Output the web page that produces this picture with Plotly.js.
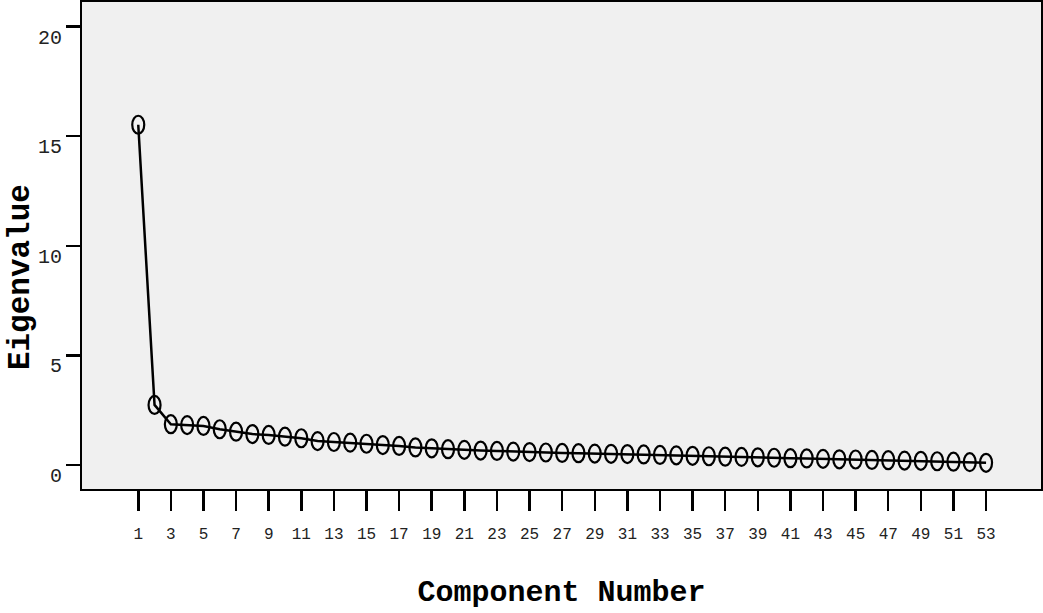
<!DOCTYPE html>
<html>
<head>
<meta charset="utf-8">
<script src="https://cdn.plot.ly/plotly-3.0.1.min.js"></script>
<style>html,body{margin:0;padding:0;background:#fff;}#chart{width:1043px;height:613px;}</style>
</head>
<body>
<div id="chart"></div>
<script>
// Component numbers 1..53
const components = [1,2,3,4,5,6,7,8,9,10,11,12,13,14,15,16,17,18,19,20,21,22,23,24,25,26,27,28,29,30,31,32,33,34,35,36,37,38,39,40,41,42,43,44,45,46,47,48,49,50,51,52,53];
// Eigenvalues
const eigenvalues = [15.52,2.74,1.86,1.82,1.78,1.63,1.52,1.41,1.37,1.29,1.22,1.09,1.05,1.02,0.97,0.91,0.87,0.80,0.76,0.72,0.69,0.66,0.64,0.61,0.59,0.57,0.55,0.54,0.52,0.51,0.50,0.48,0.46,0.44,0.42,0.40,0.38,0.37,0.35,0.33,0.31,0.30,0.28,0.26,0.25,0.23,0.22,0.20,0.19,0.17,0.15,0.13,0.10];
const xTickVals = [1,3,5,7,9,11,13,15,17,19,21,23,25,27,29,31,33,35,37,39,41,43,45,47,49,51,53];
const yTickVals = [0,5,10,15,20];
const xTitle = 'Component Number';
const yTitle = 'Eigenvalue';

const FONT = '"Liberation Mono", "Courier New", monospace';

const trace = {
  x: components,
  y: eigenvalues,
  type: 'scatter',
  mode: 'lines',
  line: {color: '#000', width: 2.5},
  hoverinfo: 'x+y',
  showlegend: false
};

// open elliptical markers anchored at each data point
const shapes = components.map((c, i) => ({
  type: 'circle',
  xref: 'x', yref: 'y',
  xsizemode: 'pixel', ysizemode: 'pixel',
  xanchor: c, yanchor: eigenvalues[i],
  x0: -6, x1: 6, y0: -9, y1: 9,
  line: {color: '#000', width: 2.2},
  fillcolor: 'rgba(0,0,0,0)'
}));

const layout = {
  width: 1043, height: 613,
  margin: {l: 82, r: 2, t: 2, b: 124},
  paper_bgcolor: '#ffffff',
  plot_bgcolor: '#f0f0f0',
  font: {family: FONT, color: '#222'},
  showlegend: false,
  shapes: shapes,
  annotations: [{
    text: yTitle, textangle: -90,
    xref: 'paper', yref: 'paper',
    x: -0.0647, y: 0.435, xanchor: 'center', yanchor: 'middle',
    showarrow: false,
    font: {family: FONT, size: 31, color: '#000', weight: 'bold'}
  }],
  xaxis: {
    range: [-2.45, 56.37],
    tickmode: 'array', tickvals: xTickVals, ticktext: xTickVals.map(String),
    ticks: 'outside', ticklen: 20, tickwidth: 2.5, tickcolor: '#000',
    ticklabelstandoff: 9,
    tickfont: {family: FONT, size: 16, color: '#222'},
    showgrid: false, zeroline: false,
    showline: true, linecolor: '#000', linewidth: 2, mirror: true,
    title: {text: xTitle, font: {family: FONT, size: 30, color: '#000', weight: 'bold'}, standoff: 37}
  },
  yaxis: {
    range: [-1.095, 21.12],
    tickmode: 'array', tickvals: yTickVals, ticktext: yTickVals.map(String),
    ticks: 'outside', ticklen: 14, tickwidth: 2.5, tickcolor: '#000',
    ticklabelshift: 10,
    tickfont: {family: FONT, size: 20, color: '#222'},
    showgrid: false, zeroline: false,
    showline: true, linecolor: '#000', linewidth: 2, mirror: true
  }
};

Plotly.newPlot('chart', [trace], layout, {displayModeBar: false, staticPlot: true});
</script>
</body>
</html>
